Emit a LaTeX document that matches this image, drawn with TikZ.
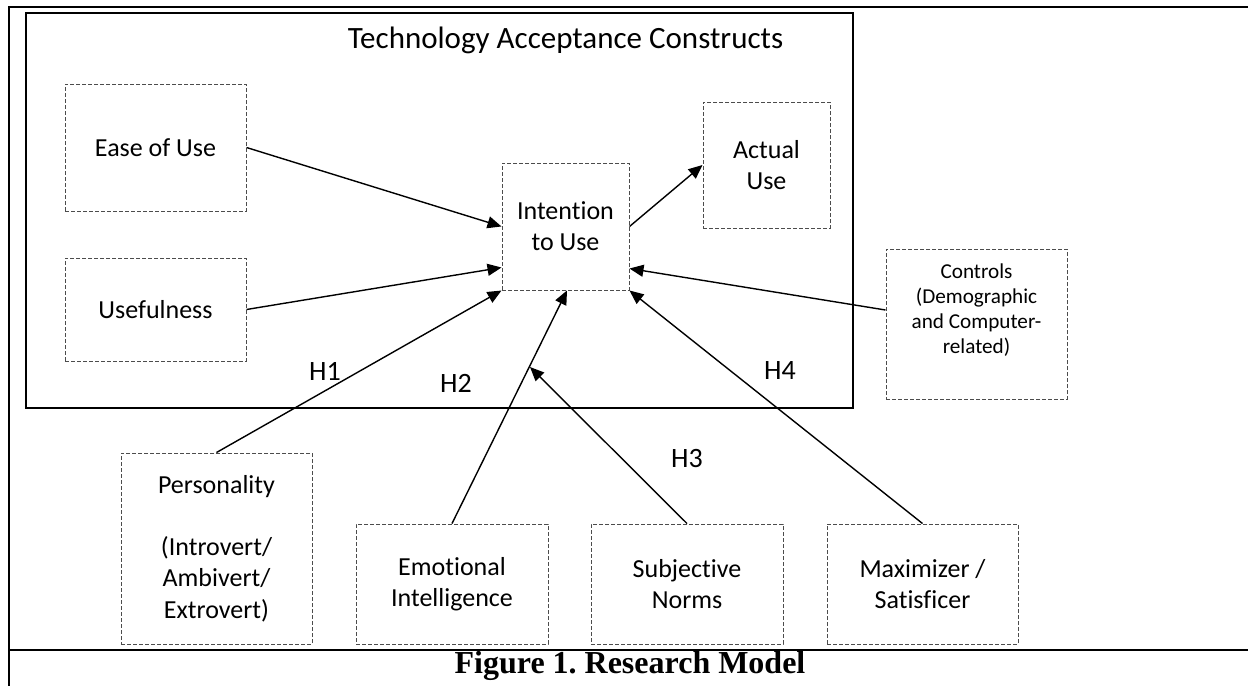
\documentclass[tikz,border=0pt]{standalone}
\usepackage{fontspec}
\setmainfont{Carlito}[Ligatures=NoCommon]
\newfontfamily\capfont{Liberation Serif}
\usetikzlibrary{arrows.meta,calc}
\frenchspacing
\begin{document}
\begin{tikzpicture}[x=0.5pt,y=-0.5pt,
  cbox/.style={draw=black!70, dash pattern=on 2pt off 1pt, line width=0.5pt, rectangle, inner sep=0pt, align=center, font=\fontsize{13}{15.6}\selectfont},
  conn/.style={line width=0.7pt, -{Triangle[length=7pt,width=6pt]}},
  hlab/.style={font=\fontsize{14}{16}\selectfont, inner sep=0pt},
  frame/.style={line width=1.2pt, black},
]
\useasboundingbox (0,0) rectangle (1248,686);
% outer table frame
\draw[frame] (1248,7) -- (9,7) -- (9,686);
\draw[frame] (9,650) -- (1248,650);
% TAC box
\draw[line width=0.6pt] (26,13) rectangle (853,408);
\node[font=\fontsize{15.5}{18}\selectfont, anchor=base, inner sep=0pt] (title) at (565.5,48) {Technology Acceptance Constructs};

% boxes
\node[cbox, minimum width=90.5pt, minimum height=63.5pt] (ease) at (155.5,147.5) {Ease of Use};
\node[cbox, minimum width=90.5pt, minimum height=51.5pt] (useful) at (155.5,309.5) {Usefulness};
\node[cbox, minimum width=63.5pt, minimum height=63.5pt] (intent) at (565.5,226.5) {Intention\\to Use};
\node[cbox, minimum width=63.5pt, minimum height=63pt] (actual) at (766.5,165) {Actual\\Use};
\node[cbox, minimum width=90.5pt, minimum height=75pt] (controls) at (976.5,324) {};
\node[align=center, font=\fontsize{10.6}{12.5}\selectfont, inner sep=0pt] (ctext) at (976.5,310) {Controls\\(Demographic\\and Computer-\\related)};
\node[cbox, minimum width=95.5pt, minimum height=95.5pt] (person) at (216.5,548.5) {Personality\\[15.6pt](Introvert/\\Ambivert/\\Extrovert)};
\node[cbox, minimum width=96pt, minimum height=60pt] (emo) at (452,584) {Emotional\\Intelligence};
\node[cbox, minimum width=96pt, minimum height=60pt] (subj) at (687,584) {Subjective\\Norms};
\node[cbox, minimum width=95.5pt, minimum height=60pt] (maxi) at (922.5,584) {Maximizer /\\Satisficer};

% hypothesis labels
\node[hlab] (h1) at (325,371) {H1};
\node[hlab] (h2) at (456,383) {H2};
\node[hlab] (h3) at (687,459) {H3};
\node[hlab] (h4) at (780,371) {H4};

\coordinate (h3end) at (530,367);

% connectors
\draw[conn] (ease.east) -- (intent.west);
\draw[conn] (useful.east) -- ($(intent.south west)+(0,-23)$);
\draw[conn] (person.north) -- (intent.south west);
\draw[conn] (emo.north) -- ($(intent.south)+(1.5,0)$);
\draw[conn] (subj.north) -- (h3end);
\draw[conn] (maxi.north) -- (intent.south east);
\draw[conn] (controls.west |- ctext.center) -- ($(intent.south east)+(0,-22)$);
\draw[conn] (intent.east) -- (actual.west);

\node[font=\capfont\bfseries\fontsize{16}{19}\selectfont, anchor=base, inner sep=0pt] (cap) at (630,673) {Figure 1. Research Model};
\end{tikzpicture}
\end{document}
